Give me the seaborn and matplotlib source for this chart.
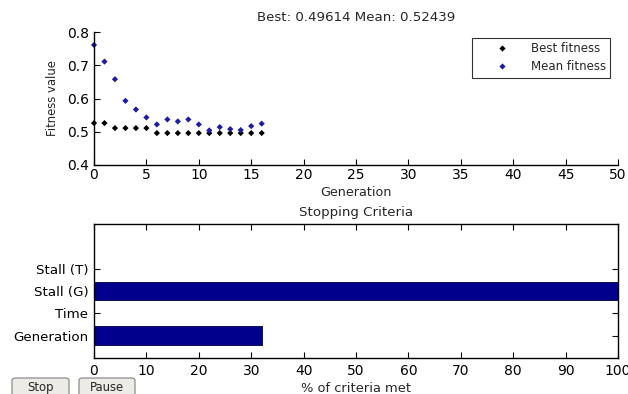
import matplotlib
matplotlib.use("Agg")
import matplotlib.pyplot as plt
from matplotlib.patches import FancyBboxPatch
import seaborn as sns
import pandas as pd

generations = list(range(17))
best_fitness = [0.526, 0.526, 0.511, 0.511, 0.511, 0.511, 0.496, 0.496, 0.496,
                0.496, 0.496, 0.496, 0.496, 0.496, 0.496, 0.496, 0.49614]
mean_fitness = [0.761, 0.711, 0.658, 0.593, 0.567, 0.543, 0.522, 0.537, 0.531,
                0.537, 0.522, 0.504, 0.514, 0.508, 0.505, 0.517, 0.52439]
criteria = ["Stall (T)", "Stall (G)", "Time", "Generation"]
criteria_pct = [0, 100, 0, 32]
buttons = ["Stop", "Pause"]

sns.set_style("ticks")
plt.rcParams['font.family'] = ['DejaVu Sans']

W, H = 628, 394
fig = plt.figure(figsize=(6.28, 3.94), dpi=100)
fig.patch.set_facecolor("white")

ax1 = fig.add_axes([94 / W, 1 - 165 / H, 524 / W, 133 / H])
df = pd.DataFrame({
    "Generation": generations * 2,
    "Fitness": best_fitness + mean_fitness,
    "Series": ["Best fitness"] * 17 + ["Mean fitness"] * 17,
})
sns.scatterplot(data=df, x="Generation", y="Fitness", hue="Series",
                palette={"Best fitness": "black", "Mean fitness": "#1c1ca6"},
                marker="D", s=10, linewidth=0, ax=ax1, clip_on=False)
ax1.set_xlim(0, 50)
ax1.set_ylim(0.4, 0.8)
ax1.set_xticks(range(0, 51, 5))
ax1.set_yticks([0.4, 0.5, 0.6, 0.7, 0.8])
ax1.set_yticklabels(["0.4", "0.5", "0.6", "0.7", "0.8"])
ax1.spines["top"].set_visible(False)
ax1.spines["right"].set_visible(False)
for s in ["left", "bottom"]:
    ax1.spines[s].set_linewidth(1.0)
    ax1.spines[s].set_color("black")
ax1.tick_params(direction="in", length=4, labelsize=10, colors="black")
ax1.tick_params(axis="y", pad=3.6)
ax1.tick_params(axis="x", pad=2.5)
ax1.set_xlabel("Generation", fontsize=9.2, labelpad=2.5)
ax1.set_ylabel("Fitness value", fontsize=8.4, labelpad=6)
ax1.set_title("Best: 0.49614 Mean: 0.52439", fontsize=9.6, pad=8)
leg = ax1.legend(loc="upper right", bbox_to_anchor=(0.9847, 0.955),
                 borderaxespad=0, frameon=True, fancybox=False, fontsize=8.5,
                 handlelength=4.5, handletextpad=0.15, borderpad=0.35,
                 labelspacing=0.45, markerscale=1.0)
leg.get_frame().set_edgecolor("black")
leg.get_frame().set_linewidth(0.8)
leg.set_title(None)

ax2 = fig.add_axes([94 / W, 1 - 358 / H, 524 / W, 134 / H])
dfb = pd.DataFrame({"Criteria": criteria, "Percent": criteria_pct})
sns.barplot(data=dfb, y="Criteria", x="Percent", order=criteria, orient="h",
            color="#00008c", saturation=1, width=0.85, edgecolor="#000033",
            linewidth=0.6, ax=ax2)
ax2.set_xlim(0, 100)
ax2.set_ylim(4, -2)
ax2.set_xticks(range(0, 101, 10))
ax2.set_yticks(range(len(criteria)))
ax2.set_yticklabels(criteria)
for s in ax2.spines.values():
    s.set_visible(True)
    s.set_linewidth(1.0)
    s.set_color("black")
ax2.tick_params(direction="in", length=4, labelsize=10, top=True,
                right=True, colors="black")
ax2.tick_params(axis="y", labelsize=9.6, pad=4)
ax2.tick_params(axis="x", pad=4)
ax2.set_xlabel("% of criteria met", fontsize=9.4, labelpad=3)
ax2.set_ylabel("")
ax2.set_title("Stopping Criteria", fontsize=9.6, pad=6)

btn_boxes = [(12, 69), (79, 135)]
for label, (x0, x1) in zip(buttons, btn_boxes):
    patch = FancyBboxPatch((x0 / W, 1 - 398 / H), (x1 - x0) / W, 20 / H,
                           boxstyle="round,pad=0,rounding_size=0.006",
                           transform=fig.transFigure, facecolor="#ecebe6",
                           edgecolor="#8c8c8c", linewidth=0.9)
    fig.add_artist(patch)
    fig.text((x0 + x1) / 2 / W, 1 - 387.5 / H, label, fontsize=8.4,
             ha="center", va="center")

fig.savefig("out.png", dpi=100, facecolor="white")
